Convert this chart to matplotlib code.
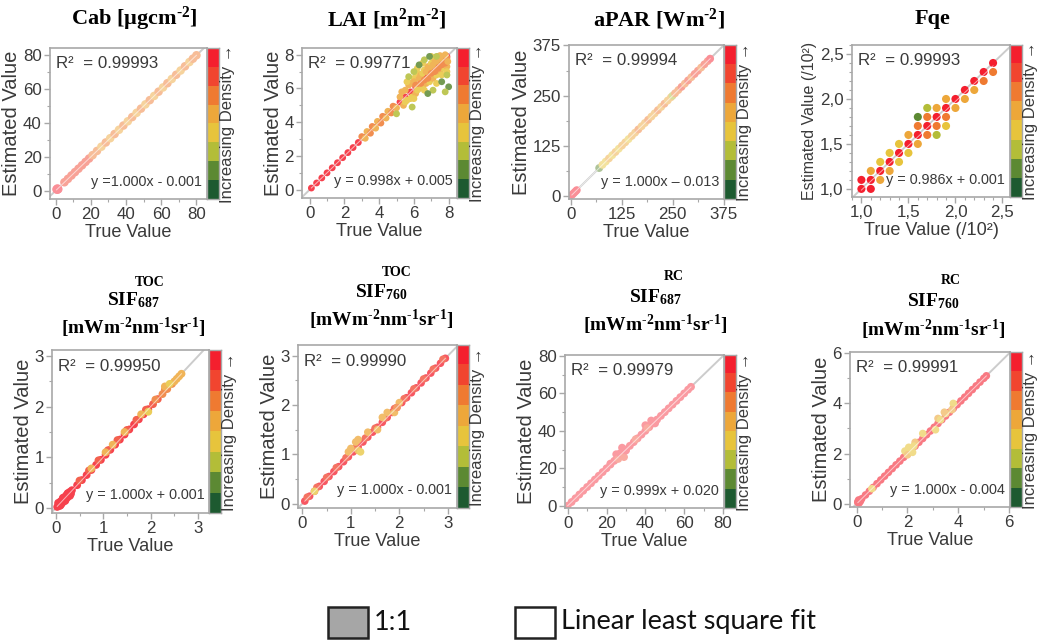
import matplotlib.pyplot as plt
from matplotlib import font_manager
from matplotlib.colors import ListedColormap, to_rgb
from matplotlib.patches import Rectangle
from matplotlib.ticker import AutoMinorLocator, FuncFormatter

installed = {f.name for f in font_manager.fontManager.ttflist}
SANS = "Liberation Sans"
NARROW = "Liberation Sans Narrow" if "Liberation Sans Narrow" in installed else SANS
SERIF = "Liberation Serif"
LEGEND_FONT = "Lato" if "Lato" in installed else "DejaVu Sans"
# horizontal text in the source is squeezed; shrink it if no narrow face is around
HSCALE = 1.0 if NARROW != SANS else 0.9

plt.rcParams["mathtext.fontset"] = "custom"
plt.rcParams["mathtext.rm"] = "Liberation Serif:bold"
plt.rcParams["mathtext.it"] = "Liberation Serif:bold"
plt.rcParams["mathtext.bf"] = "Liberation Serif:bold"

# density classes, dark green (0) -> red (7)
density_colors = ["#1d5a30", "#5c8933", "#b3bd38", "#e7c43c",
                  "#eda73a", "#ef7a31", "#f1452f", "#f41f2e"]

# ---- data: (true, estimated, density class) ----
cab_true = [0.5, 1.0, 1.5, 1.0,
            5, 7, 9, 11, 13, 15, 17, 19, 21,
            23.5, 26, 28.5, 31, 33.5, 36, 38.5, 41, 43.5, 46, 48.5, 51,
            53.5, 56, 58.5, 61, 63.5, 66, 68.5, 71, 73.5, 76, 78, 80]
cab_est = [0.8, 1.3, 0.9, 0.6,
           5, 7, 9, 11, 13, 15, 17, 19, 21,
           23.5, 26, 28.5, 31, 33.5, 36, 38.5, 41, 43.5, 46, 48.5, 51,
           53.5, 56, 58.5, 61, 63.5, 66, 68.5, 71, 73.5, 76, 78, 80]
cab_level = [7, 7, 7, 7,
             6, 6, 6, 6, 6, 6, 6, 6, 5,
             5, 4, 5, 4, 5, 4, 5, 4, 5, 4, 5, 4,
             5, 4, 5, 4, 5, 4, 5, 4, 5, 4, 5, 5]

lai_true = [0.1, 0.4, 0.7, 1.0, 1.3, 1.6, 1.9, 2.2, 2.5, 2.8,
            3.1, 3.4, 3.7, 4.0, 4.3, 4.6, 4.9,
            5.2, 5.5, 5.8, 6.1, 6.4, 6.7, 7.0, 7.3, 7.6, 7.9,
            3.0, 3.3, 3.6, 3.9, 4.2, 4.5, 4.8, 3.2, 3.5, 3.8, 4.1, 4.4, 4.7, 5.0,
            5.2, 5.4, 5.5, 5.6, 5.8, 5.9, 6.0, 6.1, 6.2, 6.3, 6.4, 6.5, 6.6, 6.7,
            6.8, 6.9, 7.0, 7.1, 7.2, 7.3, 7.4, 7.5, 7.6, 7.7, 7.8, 7.9,
            5.3, 5.5, 5.7, 5.8, 6.0, 6.1, 6.2, 6.3, 6.4, 6.5, 6.6, 6.7,
            6.8, 6.9, 7.0, 7.1, 7.2, 7.3, 7.4, 7.5, 7.6, 7.7, 7.8, 7.9,
            6.2, 6.5, 7.0, 7.3, 7.6, 7.9, 6.6, 6.0, 5.6, 7.8, 7.5, 7.95,
            6.0, 6.3, 6.6, 5.7, 7.1, 7.6, 7.9, 6.8, 5.9, 7.3, 8.0, 5.0, 6.9, 7.8]
lai_est = [0.1, 0.4, 0.7, 1.0, 1.3, 1.6, 1.9, 2.2, 2.5, 2.8,
           3.1, 3.4, 3.7, 4.0, 4.3, 4.6, 4.9,
           5.2, 5.5, 5.8, 6.1, 6.4, 6.7, 7.0, 7.3, 7.6, 7.9,
           3.15, 3.45, 3.75, 4.05, 4.35, 4.65, 4.95, 3.05, 3.35, 3.65, 3.95, 4.25, 4.55, 4.85,
           5.5, 5.0, 5.9, 5.3, 6.3, 5.5, 6.6, 5.7, 6.9, 6.0, 6.8, 6.1, 7.1, 6.3,
           7.3, 6.4, 7.5, 6.6, 7.7, 6.8, 7.9, 7.0, 7.6, 7.2, 7.9, 7.3,
           5.8, 5.2, 6.2, 5.4, 6.4, 6.2, 5.9, 6.6, 6.3, 6.9, 6.5, 7.0,
           6.6, 7.2, 6.9, 7.4, 7.0, 7.6, 7.2, 7.7, 7.4, 7.8, 7.5, 7.8,
           7.2, 7.5, 7.9, 6.3, 6.8, 7.0, 5.9, 5.4, 6.4, 8.0, 7.95, 7.6,
           7.0, 7.4, 7.7, 6.7, 5.9, 6.4, 6.8, 5.7, 4.9, 7.9, 6.1, 4.5, 7.9, 5.8]
lai_level = [7, 7, 7, 7, 7, 7, 7, 7, 7, 7,
             6, 6, 6, 6, 6, 6, 6,
             7, 7, 7, 7, 7, 7, 7, 7, 7, 7,
             5, 4, 5, 4, 5, 4, 5, 4, 5, 4, 5, 4, 5, 4,
             4, 4, 4, 3, 4, 3, 3, 4, 3, 4, 4, 3, 3, 4,
             4, 3, 3, 4, 4, 3, 3, 4, 5, 3, 4, 4,
             4, 3, 4, 3, 4, 5, 3, 4, 5, 3, 5, 4,
             5, 4, 5, 4, 5, 4, 5, 4, 5, 4, 5, 5,
             3, 3, 3, 3, 3, 3, 3, 3, 3, 4, 4, 4,
             2, 1, 2, 2, 2, 1, 2, 1, 2, 2, 1, 2, 1, 2]

apar_true = [3, 6, 9, 12, 15, 70,
             78, 86, 94, 102, 110, 118, 126, 134, 142, 150, 158,
             166, 174, 182, 190, 198, 206, 214, 222, 230, 238, 246,
             250, 256, 264, 272, 280, 288, 296, 304, 312, 320, 328, 336, 342]
apar_est = [3, 6, 9, 12, 15, 70,
            78, 86, 94, 102, 110, 118, 126, 134, 142, 150, 158,
            166, 174, 182, 190, 198, 206, 214, 222, 230, 238, 246,
            250, 256, 264, 272, 280, 288, 296, 304, 312, 320, 328, 336, 342]
apar_level = [7, 7, 7, 7, 7, 1,
              3, 3, 4, 3, 4, 3, 4, 4, 3, 4, 4,
              5, 4, 4, 5, 4, 4, 5, 4, 5, 4, 4,
              2, 5, 5, 6, 5, 6, 5, 6, 6, 5, 6, 6, 7]

fqe_true = [1.0, 1.0, 1.1, 1.1, 1.1, 1.2, 1.2, 1.2, 1.3, 1.3, 1.3,
            1.4, 1.4, 1.4, 1.5, 1.5, 1.5, 1.6, 1.6, 1.6, 1.6,
            1.7, 1.7, 1.7, 1.7, 1.8, 1.8, 1.8, 1.8, 1.9, 1.9, 1.9, 1.9,
            2.0, 2.0, 2.1, 2.1, 2.2, 2.2, 2.3, 2.3, 2.4, 2.4]
fqe_est = [1.0, 1.1, 1.0, 1.1, 1.2, 1.1, 1.2, 1.3, 1.2, 1.3, 1.4,
           1.3, 1.4, 1.5, 1.4, 1.5, 1.6, 1.5, 1.6, 1.7, 1.8,
           1.6, 1.7, 1.8, 1.9, 1.6, 1.7, 1.8, 1.9, 1.7, 1.8, 1.9, 2.0,
           1.9, 2.0, 2.0, 2.1, 2.1, 2.2, 2.2, 2.3, 2.3, 2.4]
fqe_level = [7, 7, 7, 7, 4, 4, 7, 3, 4, 7, 3,
             3, 7, 3, 3, 7, 4, 4, 7, 5, 1,
             5, 7, 5, 2, 2, 5, 7, 4, 3, 5, 7, 4,
             4, 7, 4, 7, 4, 7, 5, 7, 5, 7]

sif687toc_true = [0.03, 0.06, 0.08, 0.10, 0.12, 0.14, 0.16, 0.18, 0.20, 0.22, 0.24,
                  0.26, 0.28, 0.30, 0.32, 0.34, 0.05, 0.10, 0.15, 0.20, 0.25, 0.30,
                  0.45, 0.55, 0.65, 0.75, 0.85, 0.95, 1.05, 1.15, 1.25, 1.35, 1.45,
                  1.55, 1.65, 1.75, 1.85, 1.95, 2.05, 2.15, 2.25, 2.35, 2.45,
                  0.5, 0.7, 0.9, 1.1, 1.3, 1.5, 1.7, 1.9, 2.1, 2.3,
                  2.5, 2.55, 2.6, 2.65,
                  0.75, 1.05, 1.2, 1.45, 1.8, 1.95, 2.3, 2.4]
sif687toc_est = [0.02, 0.08, 0.04, 0.13, 0.08, 0.17, 0.12, 0.21, 0.16, 0.25, 0.20,
                 0.29, 0.24, 0.32, 0.28, 0.35, 0.10, 0.05, 0.20, 0.14, 0.29, 0.24,
                 0.45, 0.55, 0.65, 0.75, 0.85, 0.95, 1.05, 1.15, 1.25, 1.35, 1.45,
                 1.55, 1.65, 1.75, 1.85, 1.95, 2.05, 2.15, 2.25, 2.35, 2.45,
                 0.54, 0.74, 0.94, 1.14, 1.34, 1.54, 1.74, 1.94, 2.14, 2.34,
                 2.5, 2.55, 2.6, 2.65,
                 0.78, 1.10, 1.25, 1.50, 1.85, 1.90, 2.40, 2.45]
sif687toc_level = [7, 7, 7, 7, 7, 7, 7, 7, 7, 7, 7,
                   7, 7, 7, 7, 7, 7, 7, 7, 7, 7, 7,
                   7, 7, 7, 7, 7, 7, 7, 7, 7, 7, 7,
                   7, 7, 7, 7, 7, 6, 6, 5, 5, 5,
                   6, 6, 6, 6, 6, 6, 6, 6, 5, 5,
                   4, 4, 4, 4,
                   4, 4, 4, 4, 4, 3, 4, 3]

sif760toc_true = [0.05, 0.15, 0.25, 0.35, 0.45, 0.55, 0.65, 0.75, 0.85, 0.95,
                  1.05, 1.15, 1.25, 1.35, 1.45, 1.55, 1.65, 1.75, 1.85, 1.95,
                  2.05, 2.15, 2.25, 2.35, 2.45, 2.55, 2.65, 2.75, 2.85, 2.95,
                  0.1, 0.3, 0.5, 0.7, 0.9, 1.1, 1.3, 1.5, 1.7, 1.9, 2.1, 2.3, 2.5, 2.7, 2.9,
                  0.25, 0.95, 1.0, 1.1, 1.15, 1.2, 1.15, 1.35, 1.55, 1.65, 1.75, 1.9, 2.0, 1.95]
sif760toc_est = [0.05, 0.15, 0.25, 0.35, 0.45, 0.55, 0.65, 0.75, 0.85, 0.95,
                 1.05, 1.15, 1.25, 1.35, 1.45, 1.55, 1.65, 1.75, 1.85, 1.95,
                 2.05, 2.15, 2.25, 2.35, 2.45, 2.55, 2.65, 2.75, 2.85, 2.95,
                 0.13, 0.33, 0.53, 0.73, 0.93, 1.13, 1.33, 1.53, 1.73, 1.93, 2.13, 2.33, 2.53, 2.73, 2.93,
                 0.25, 1.05, 1.12, 1.25, 1.08, 1.05, 1.30, 1.45, 1.50, 1.75, 1.85, 1.85, 2.05, 1.95]
sif760toc_level = [7, 7, 7, 7, 7, 7, 7, 7, 7, 7,
                   7, 7, 7, 7, 7, 7, 7, 7, 7, 7,
                   7, 7, 7, 7, 7, 7, 7, 7, 7, 7,
                   6, 6, 6, 6, 6, 6, 6, 6, 6, 6, 6, 6, 6, 6, 6,
                   3, 4, 4, 4, 4, 3, 4, 4, 4, 4, 4, 4, 4, 5]

sif687rc_true = [0, 2, 4, 6, 8, 10, 12, 14, 16, 18, 20, 22, 24, 26, 28, 30,
                 32, 34, 36, 38, 40, 42, 44, 46, 48, 50, 52, 54, 56, 58, 60, 62, 63.5,
                 22, 25, 26, 27, 28, 29, 30, 35, 40, 41, 43, 45]
sif687rc_est = [0, 2, 4, 6, 8, 10, 12, 14, 16, 18, 20, 22, 24, 26, 28, 30,
                32, 34, 36, 38, 40, 42, 44, 46, 48, 50, 52, 54, 56, 58, 60, 62, 63.5,
                22.5, 27.5, 25, 28, 31, 26, 29.5, 35.5, 43, 41.5, 45.5, 44]
sif687rc_level = [7] * 33 + [7, 7, 6, 7, 7, 6, 7, 6, 7, 6, 7, 7]

sif760rc_true = [0.05, 0.2, 0.35, 0.5, 0.65, 0.8, 0.95, 1.1, 1.25, 1.4, 1.55, 1.7,
                 1.85, 2.0, 2.15, 2.3, 2.45, 2.6, 2.75, 2.9, 3.05, 3.2, 3.35, 3.5,
                 3.65, 3.8, 3.95, 4.1, 4.25, 4.4, 4.55, 4.7, 4.85, 5.0, 5.1,
                 0.05, 0.1, 0.15, 0.08,
                 0.6, 1.9, 2.0, 2.05, 2.2, 2.3, 2.25, 2.6, 3.1, 3.2, 3.3, 3.5, 3.45, 3.8, 3.75]
sif760rc_est = [0.05, 0.2, 0.35, 0.5, 0.65, 0.8, 0.95, 1.1, 1.25, 1.4, 1.55, 1.7,
                1.85, 2.0, 2.15, 2.3, 2.45, 2.6, 2.75, 2.9, 3.05, 3.2, 3.35, 3.5,
                3.65, 3.8, 3.95, 4.1, 4.25, 4.4, 4.55, 4.7, 4.85, 5.0, 5.1,
                0.08, 0.03, 0.1, 0.15,
                0.6, 2.1, 1.95, 2.25, 2.05, 2.45, 2.3, 2.8, 2.95, 3.4, 3.35, 3.6, 3.65, 4.0, 3.75]
sif760rc_level = [7] * 35 + [7, 7, 7, 7] + [3, 3, 4, 3, 3, 4, 3, 3, 3, 4, 3, 3, 4, 3, 4]

r2_values = ["0.99993", "0.99771", "0.99994", "0.99993",
             "0.99950", "0.99990", "0.99979", "0.99991"]
fit_slope = [1.000, 0.998, 1.000, 0.986, 1.000, 1.000, 0.999, 1.000]
fit_intercept = [-0.001, 0.005, -0.013, 0.001, 0.001, -0.001, 0.020, -0.004]
fit_labels = ["y =1.000x - 0.001", "y = 0.998x + 0.005", "y = 1.000x \u2013 0.013",
              "y = 0.986x + 0.001", "y = 1.000x + 0.001", "y = 1.000x - 0.001",
              "y = 0.999x + 0.020", "y = 1.000x - 0.004"]
panel_ticks = [[0, 20, 40, 60, 80], [0, 2, 4, 6, 8], [0, 125, 250, 375],
               [1.0, 1.5, 2.0, 2.5], [0, 1, 2, 3], [0, 1, 2, 3],
               [0, 20, 40, 60, 80], [0, 2, 4, 6]]

panels = [
    (cab_true, cab_est, cab_level),
    (lai_true, lai_est, lai_level),
    (apar_true, apar_est, apar_level),
    (fqe_true, fqe_est, fqe_level),
    (sif687toc_true, sif687toc_est, sif687toc_level),
    (sif760toc_true, sif760toc_est, sif760toc_level),
    (sif687rc_true, sif687rc_est, sif687rc_level),
    (sif760rc_true, sif760rc_est, sif760rc_level),
]

# ---- layout (pixels in a 1043 x 641 canvas) ----
W, H = 1043, 641
boxes_px = [(50, 207, 48, 199), (302, 457, 48, 198), (569, 724, 45, 199), (852, 1010, 45, 197),
            (52, 209, 350, 513), (298, 457, 345, 508), (565, 724, 355, 508), (850, 1010, 352, 507)]
limits = [((-3.2, 86), (-4.9, 84.3)), ((-0.44, 8.48), (-0.49, 8.4)),
          ((-4, 376), (-7, 376)), ((0.90, 2.58), (0.91, 2.6)),
          ((-0.08, 3.23), (-0.1, 3.12)), ((-0.09, 3.19), (-0.09, 3.22)),
          ((-1.4, 80.5), (-1.2, 80.5)), ((-0.26, 6.03), (-0.13, 6.05))]
marker_size = [38, 24, 32, 34, 32, 30, 32, 30]
# how strongly each panel's colours show against white (the source looks washed out)
colour_strength = [0.5, 0.85, 0.5, 1.0, 0.85, 0.75, 0.45, 0.6]

TEXT = "#3a3a3a"
SPINE = "#a8a8a8"
cmap = ListedColormap(density_colors)


def washed(colour, strength):
    return tuple(strength * c + (1 - strength) for c in to_rgb(colour))


fig = plt.figure(figsize=(W / 100, H / 100), dpi=100)


def fig_box(l, r, t, b):
    return [l / W, 1 - b / H, (r - l) / W, (b - t) / H]


for i, (xs, ys, lv) in enumerate(panels):
    l, r, t, b = boxes_px[i]
    ax = fig.add_axes(fig_box(l, r, t, b))
    (x0, x1), (y0, y1) = limits[i]

    # 1:1 line sits under the points, the fit line is drawn over them
    lo, hi = max(x0, y0), min(x1, y1)
    ax.plot([lo, hi], [lo, hi], color="#cccccc", lw=1.4, zorder=1)
    ax.scatter(xs, ys, s=marker_size[i],
               c=[washed(density_colors[k], colour_strength[i]) for k in lv],
               edgecolors="none", zorder=2)
    xf = [min(xs), max(xs)]
    ax.plot(xf, [fit_slope[i] * v + fit_intercept[i] for v in xf],
            color="white", lw=0.7, alpha=0.6, zorder=4)

    ax.set_xlim(x0, x1)
    ax.set_ylim(y0, y1)
    ax.set_xticks(panel_ticks[i])
    ax.set_yticks(panel_ticks[i])
    minor = 5 if i == 3 else 2
    ax.xaxis.set_minor_locator(AutoMinorLocator(minor))
    ax.yaxis.set_minor_locator(AutoMinorLocator(minor))
    ax.tick_params(which="major", length=4, width=1, color=SPINE,
                   labelsize=13.5 * HSCALE, labelcolor=TEXT, pad=2)
    ax.tick_params(which="minor", length=2.5, width=0.8, color=SPINE)
    for lab in ax.get_xticklabels() + ax.get_yticklabels():
        lab.set_fontfamily(NARROW)
    if i == 3:
        fmt = FuncFormatter(lambda v, p: f"{v:.1f}".replace(".", ","))
        ax.xaxis.set_major_formatter(fmt)
        ax.yaxis.set_major_formatter(fmt)
        ax.set_ylabel("Estimated Value (/10\u00b2)", fontsize=11.5, family=SANS,
                      color=TEXT, labelpad=2)
        ax.set_xlabel("True Value (/10\u00b2)", fontsize=14.5 * HSCALE, family=NARROW,
                      color=TEXT, labelpad=1)
    else:
        ax.set_ylabel("Estimated Value", fontsize=14.5, family=SANS,
                      color=TEXT, labelpad=1)
        ax.set_xlabel("True Value", fontsize=14.5 * HSCALE, family=NARROW,
                      color=TEXT, labelpad=1)
    for sp in ax.spines.values():
        sp.set_color(SPINE)
        sp.set_linewidth(1.2)

    ax.text(0.04, 0.9, "R\u00b2  = " + r2_values[i], transform=ax.transAxes,
            fontsize=13.5 * HSCALE, family=NARROW, color=TEXT, va="center", ha="left")
    ax.text(0.97, 0.11, fit_labels[i], transform=ax.transAxes,
            fontsize=11.5 * HSCALE, family=NARROW, color=TEXT, va="center", ha="right")

    # discrete density bar
    cax = fig.add_axes(fig_box(r, r + 12, t, b))
    cax.imshow([[k] for k in range(7, -1, -1)], cmap=cmap, aspect="auto",
               vmin=-0.5, vmax=7.5, interpolation="nearest")
    cax.set_xticks([])
    cax.set_yticks([])
    for sp in cax.spines.values():
        sp.set_color(SPINE)
        sp.set_linewidth(1)
    cax.text(1.12, 0.5, "Increasing Density \u2192", transform=cax.transAxes,
             rotation=90, fontsize=12, family=SANS, color=TEXT,
             ha="left", va="center")

# ---- titles ----
HY = "\u2010"
title_kw = dict(family=SERIF, weight="bold", color="black", ha="center", va="center")
top_titles = ["Cab [\u00b5gcm$^{" + HY + "2}$]", "LAI [m$^{2}$m$^{" + HY + "2}$]",
              "aPAR [Wm$^{" + HY + "2}$]", "Fqe"]
top_title_x = [134, 387, 659, 933]
for text, x in zip(top_titles, top_title_x):
    fig.text(x / W, 1 - 19 / H, text, fontsize=16, **title_kw)

sif_names = ["SIF$_{687}$", "SIF$_{760}$", "SIF$_{687}$", "SIF$_{760}$"]
sif_tags = ["TOC", "TOC", "RC", "RC"]
sif_x = [133, 381, 655, 933]
sif_y = [300, 292, 297, 301]
tag_x = [150, 397, 674, 951]
tag_y = [282, 272, 277, 280]
unit_y = [328, 320, 325, 330]
unit_text = "[mWm$^{" + HY + "2}$nm$^{" + HY + "1}$sr$^{" + HY + "1}$]"
for k in range(4):
    fig.text(tag_x[k] / W, 1 - tag_y[k] / H, sif_tags[k], fontsize=10, **title_kw)
    fig.text(sif_x[k] / W, 1 - sif_y[k] / H, sif_names[k], fontsize=14, **title_kw)
    fig.text(sif_x[k] / W, 1 - unit_y[k] / H, unit_text, fontsize=14, **title_kw)

# ---- legend ----
fig.add_artist(Rectangle((328 / W, 1 - 638 / H), 40 / W, 31 / H, transform=fig.transFigure,
                         facecolor="#a6a6a6", edgecolor="#222222", lw=1.8))
fig.text(374 / W, 1 - 622 / H, "1:1", fontsize=19.5, family=LEGEND_FONT,
         color="#111111", va="center", ha="left")
fig.add_artist(Rectangle((515 / W, 1 - 638 / H), 40 / W, 31 / H, transform=fig.transFigure,
                         facecolor="white", edgecolor="#222222", lw=1.8))
fig.text(561 / W, 1 - 622 / H, "Linear least square fit", fontsize=19.5,
         family=LEGEND_FONT, color="#111111", va="center", ha="left")

fig.savefig("out.png", dpi=100)
